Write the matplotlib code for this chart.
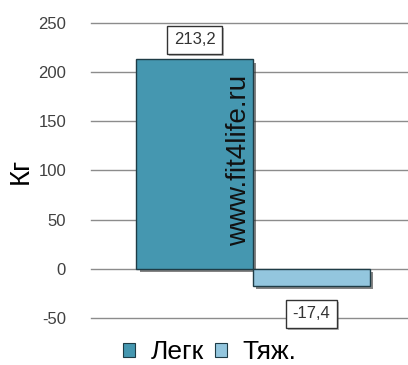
import matplotlib
matplotlib.use("Agg")
import matplotlib.pyplot as plt
import matplotlib.patheffects as pe
from matplotlib.patches import Patch

plt.rcParams['font.family'] = ['Liberation Sans', 'DejaVu Sans']
plt.rcParams['axes.unicode_minus'] = False

series = ["Легк", "Тяж."]
values = [213.2, -17.4]
labels = ["213,2", "-17,4"]
colors = ["#4597b0", "#93c6de"]
yticks = [-50, 0, 50, 100, 150, 200, 250]

fig = plt.figure(figsize=(4.08, 3.65), dpi=100)
ax = fig.add_axes([91 / 408, 47 / 365, 317 / 408, 295 / 365])

shadow = [pe.SimplePatchShadow(offset=(2.5, -2.5), shadow_rgbFace="#333333", alpha=0.6), pe.Normal()]

positions = [-0.5, 0.5]
bars = ax.bar(positions, values, width=1.0, color=colors, edgecolor="#1e3c46",
              linewidth=1.0, zorder=3)
for b in bars:
    b.set_path_effects(shadow)

# data labels
for x, v, lab in zip(positions, values, labels):
    off = 14 if v > 0 else -20
    ax.annotate(lab, xy=(x, v), xytext=(0, off), textcoords="offset points",
                ha="center", va="center", fontsize=12, color="#333333", zorder=5,
                bbox=dict(boxstyle="square,pad=0.4", fc="white", ec="#333333", lw=1,
                          path_effects=[pe.SimplePatchShadow(offset=(1.5, -1.5), alpha=0.4), pe.Normal()]))

# watermark
ax.text(-0.12, 110, "www.fit4life.ru", rotation=90, ha="center", va="center",
        fontsize=20, color="#111111", zorder=4)

ax.set_xlim(-1.39, 1.33)
ax.set_ylim(-50, 250)
ax.set_yticks(yticks)
ax.set_xticks([])
for y in yticks:
    ax.axhline(y, color="#8c8c8c", linewidth=1, zorder=0, clip_on=False)
for s in ax.spines.values():
    s.set_visible(False)
ax.tick_params(axis="y", length=0, pad=18, labelsize=12, labelcolor="#404040")
ax.set_ylabel("Кг", fontsize=20, labelpad=3)

handles = [Patch(facecolor=c, edgecolor="#1e3c46", linewidth=0.8) for c in colors]
fig.legend(handles, series, loc="center", bbox_to_anchor=(210 / 408, 13 / 365),
           ncol=2, frameon=False, fontsize=19, handlelength=0.45, handleheight=0.45,
           handletextpad=0.6, columnspacing=0.4, borderpad=0)

fig.savefig("out.png", dpi=100)
